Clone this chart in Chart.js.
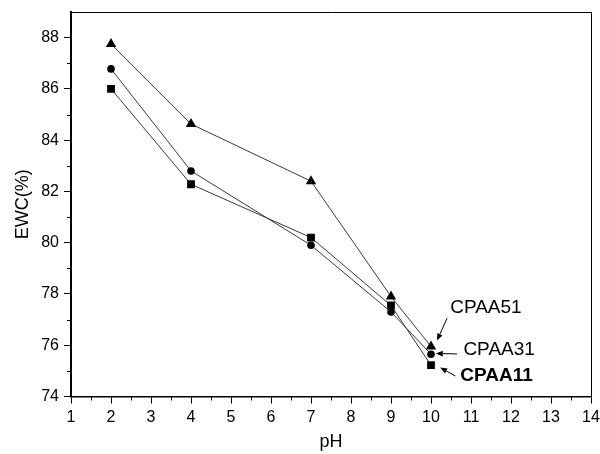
<!DOCTYPE html>
<html>
<head>
<meta charset="utf-8">
<script src="https://cdn.jsdelivr.net/npm/chart.js@4/dist/chart.umd.min.js"></script>
<style>
  html, body { margin: 0; padding: 0; background: #fff; }
  #wrap { width: 600px; height: 454px; }
</style>
</head>
<body>
<div id="wrap"><canvas id="c" width="600" height="454"></canvas></div>
<script>
// Equilibrium water content versus pH for three hydrogel compositions
const pH = [2, 4, 7, 9, 10];
const cpaa51 = [87.75, 84.63, 82.40, 77.90, 75.95];
const cpaa31 = [86.78, 82.80, 79.90, 77.30, 75.65];
const cpaa11 = [86.00, 82.28, 80.20, 77.55, 75.22];

const xTicks = [1, 2, 3, 4, 5, 6, 7, 8, 9, 10, 11, 12, 13, 14];
const yTicks = [74, 76, 78, 80, 82, 84, 86, 88];

// Callout labels, positioned in axis units (pH, EWC)
const calloutText   = ['CPAA51', 'CPAA31', 'CPAA11'];
const calloutBold   = [false, false, true];
const calloutAnchor = [[10.48, 77.45], [10.81, 75.82], [10.73, 74.80]];
const calloutTail   = [[10.40, 77.05], [10.65, 75.66], [10.61, 74.80]];
const calloutHead   = [[10.15, 76.18], [10.12, 75.68], [10.23, 75.13]];

const FONT = '"Liberation Sans", Arial, Helvetica, sans-serif';

// Short minor ticks between the labelled ones, plus the top/right frame
const frameAndMinorTicks = {
  id: 'frameAndMinorTicks',
  afterDraw(chart) {
    const { ctx, chartArea: a, scales: { x, y } } = chart;
    ctx.save();
    ctx.strokeStyle = '#000';
    ctx.lineWidth = 1;
    ctx.beginPath();
    ctx.moveTo(a.left, a.top + 0.5);
    ctx.lineTo(a.right + 0.5, a.top + 0.5);
    ctx.lineTo(a.right + 0.5, a.bottom);
    ctx.stroke();

    ctx.beginPath();
    for (let i = 0; i < xTicks.length - 1; i++) {
      const px = Math.round(x.getPixelForValue((xTicks[i] + xTicks[i + 1]) / 2)) + 0.5;
      ctx.moveTo(px, a.bottom);
      ctx.lineTo(px, a.bottom + 4);
    }
    for (let i = 0; i < yTicks.length; i++) {
      const v = yTicks[i] + 1;
      if (v >= y.max) continue;
      const py = Math.round(y.getPixelForValue(v)) + 0.5;
      ctx.moveTo(a.left, py);
      ctx.lineTo(a.left - 4, py);
    }
    ctx.stroke();
    ctx.restore();
  }
};

// Series callouts with small filled arrowheads
const callouts = {
  id: 'callouts',
  afterDatasetsDraw(chart) {
    const { ctx, scales: { x, y } } = chart;
    ctx.save();
    ctx.fillStyle = '#000';
    ctx.strokeStyle = '#000';
    ctx.lineWidth = 1;
    ctx.textBaseline = 'middle';
    ctx.textAlign = 'left';
    for (let i = 0; i < calloutText.length; i++) {
      ctx.font = (calloutBold[i] ? 'bold ' : '') + '19px ' + FONT;
      ctx.fillText(calloutText[i], x.getPixelForValue(calloutAnchor[i][0]), y.getPixelForValue(calloutAnchor[i][1]));

      const tx = x.getPixelForValue(calloutTail[i][0]), ty = y.getPixelForValue(calloutTail[i][1]);
      const hx = x.getPixelForValue(calloutHead[i][0]), hy = y.getPixelForValue(calloutHead[i][1]);
      const ang = Math.atan2(hy - ty, hx - tx);
      const len = 7, half = 2.8;
      const bx = hx - len * Math.cos(ang), by = hy - len * Math.sin(ang);
      ctx.beginPath();
      ctx.moveTo(tx, ty);
      ctx.lineTo(bx, by);
      ctx.stroke();
      ctx.beginPath();
      ctx.moveTo(hx, hy);
      ctx.lineTo(bx + half * Math.sin(ang), by - half * Math.cos(ang));
      ctx.lineTo(bx - half * Math.sin(ang), by + half * Math.cos(ang));
      ctx.closePath();
      ctx.fill();
    }
    ctx.restore();
  }
};

function series(label, values, style, radius) {
  return {
    label,
    data: pH.map((v, i) => ({ x: v, y: values[i] })),
    borderColor: '#3a3a3a',
    borderWidth: 1,
    pointStyle: style,
    pointRadius: radius,
    pointHoverRadius: radius,
    pointBackgroundColor: '#000',
    pointBorderColor: '#000',
    pointBorderWidth: 0,
    tension: 0,
    fill: false
  };
}

new Chart(document.getElementById('c'), {
  type: 'line',
  data: {
    datasets: [
      series('CPAA51', cpaa51, 'triangle', 6),
      series('CPAA31', cpaa31, 'circle', 3.8),
      series('CPAA11', cpaa11, 'rect', 5.5)
    ]
  },
  plugins: [frameAndMinorTicks, callouts],
  options: {
    responsive: false,
    devicePixelRatio: 1,
    animation: false,
    layout: { padding: { left: 0, right: 9, top: 12, bottom: 0 } },
    plugins: { legend: { display: false }, tooltip: { enabled: false } },
    scales: {
      x: {
        type: 'linear',
        min: xTicks[0],
        max: xTicks[xTicks.length - 1],
        ticks: { stepSize: 1, color: '#000', font: { family: FONT, size: 16 }, padding: 4, maxRotation: 0 },
        grid: { display: true, drawOnChartArea: false, drawTicks: true, tickLength: 7, color: '#000', lineWidth: 1 },
        border: { display: true, color: '#000', width: 1.5 },
        title: { display: true, text: 'pH', color: '#000', font: { family: FONT, size: 18 }, padding: { top: 0, bottom: 1 } },
        afterFit(scale) { scale.height = 57.5; scale.paddingLeft = 0; scale.paddingRight = 0; }
      },
      y: {
        type: 'linear',
        min: yTicks[0],
        max: 89,
        ticks: { stepSize: 2, includeBounds: false, color: '#000', font: { family: FONT, size: 16 }, padding: 5 },
        grid: { display: true, drawOnChartArea: false, drawTicks: true, tickLength: 7, color: '#000', lineWidth: 1 },
        border: { display: true, color: '#000', width: 2 },
        title: { display: true, text: 'EWC(%)', color: '#000', font: { family: FONT, size: 18 }, padding: { top: 12, bottom: 0 } },
        afterFit(scale) { scale.width = 71; scale.paddingTop = 0; scale.paddingBottom = 0; }
      }
    }
  }
});
</script>
</body>
</html>
